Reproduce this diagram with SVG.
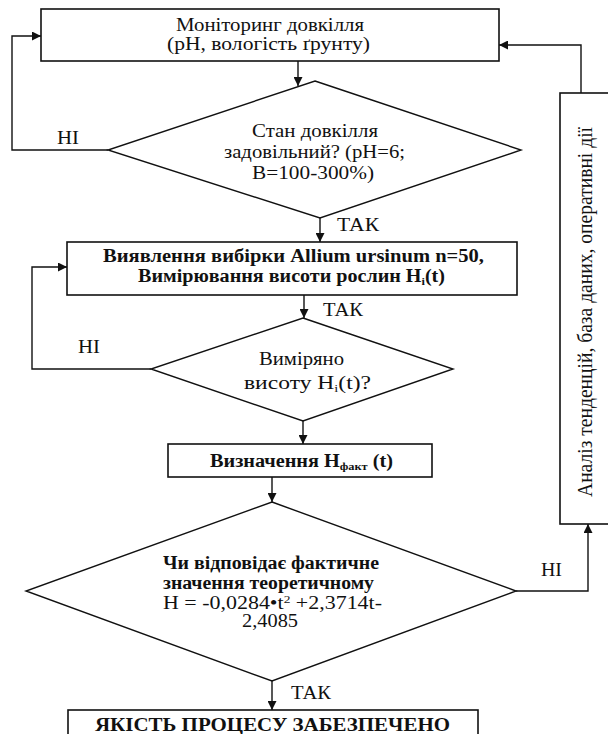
<svg xmlns="http://www.w3.org/2000/svg" width="608" height="734" viewBox="0 0 608 734" font-family="'Liberation Serif', 'DejaVu Serif', serif">
<defs>
<marker id="ah" viewBox="0 0 10 10" refX="10" refY="5" markerWidth="10" markerHeight="9" markerUnits="userSpaceOnUse" orient="auto">
<path d="M0,0 L10,5 L0,10 z" fill="#111"/>
</marker>
<style>
.shape{fill:#fff;stroke:#111;stroke-width:1.6}
.dia{fill:#fff;stroke:#111;stroke-width:1.4}
.conn{fill:none;stroke:#111;stroke-width:1.4}
.t{font-family:'Liberation Serif', 'DejaVu Serif', serif;font-size:18px;fill:#111}
.c{text-anchor:middle}
.b{font-weight:bold}
.sub{font-size:11px}
</style>
</defs>
<rect width="608" height="734" fill="#fff"/>

<g id="connectors">
<path class="conn" d="M298,61 V86" marker-end="url(#ah)"/>
<path class="conn" d="M320,218 V242" marker-end="url(#ah)"/>
<path class="conn" d="M304,295 V318" marker-end="url(#ah)"/>
<path class="conn" d="M303,421 V444" marker-end="url(#ah)"/>
<path class="conn" d="M272,477 V502" marker-end="url(#ah)"/>
<path class="conn" d="M272,681 V710" marker-end="url(#ah)"/>
<path class="conn" d="M108,150 H12 V36 H41" marker-end="url(#ah)"/>
<path class="conn" d="M151,369 H32 V267 H67" marker-end="url(#ah)"/>
<path class="conn" d="M516,591 H588 V524" marker-end="url(#ah)"/>
<path class="conn" d="M581,93 V45 H499" marker-end="url(#ah)"/>
<text class="t" x="57" y="144" textLength="22" lengthAdjust="spacingAndGlyphs">НІ</text>
<text class="t" x="337" y="231" textLength="42" lengthAdjust="spacingAndGlyphs">ТАК</text>
<text class="t" x="323" y="316" textLength="40" lengthAdjust="spacingAndGlyphs">ТАК</text>
<text class="t" x="78" y="353" textLength="22" lengthAdjust="spacingAndGlyphs">НІ</text>
<text class="t" x="541" y="576" textLength="21" lengthAdjust="spacingAndGlyphs">НІ</text>
<text class="t" x="291" y="699" textLength="40" lengthAdjust="spacingAndGlyphs">ТАК</text>
</g>

<g id="monitoring">
<rect class="shape" x="41" y="9" width="458" height="52"/>
<text class="t c" x="270" y="31" textLength="188" lengthAdjust="spacingAndGlyphs">Моніторинг довкілля</text>
<text class="t c" x="268.5" y="50" textLength="203" lengthAdjust="spacingAndGlyphs">(pH, вологість ґрунту)</text>
</g>

<g id="env-check">
<polygon class="dia" points="315,81 521,150 320,218 108,150"/>
<text class="t c" x="315" y="137" textLength="126" lengthAdjust="spacingAndGlyphs">Стан довкілля</text>
<text class="t c" x="314.5" y="158" textLength="181" lengthAdjust="spacingAndGlyphs">задовільний? (pH=6;</text>
<text class="t c" x="313" y="179" textLength="122" lengthAdjust="spacingAndGlyphs">B=100-300%)</text>
</g>

<g id="sampling">
<rect class="shape" x="67" y="242" width="450" height="53"/>
<text class="t c b" x="293.5" y="262" textLength="381" lengthAdjust="spacingAndGlyphs">Виявлення вибірки Allium ursinum n=50,</text>
<text class="t c b" x="291.5" y="282" textLength="307" lengthAdjust="spacingAndGlyphs">Вимірювання висоти рослин H<tspan class="sub" dy="3">i</tspan><tspan dy="-3">(t)</tspan></text>
</g>

<g id="measured-check">
<polygon class="dia" points="303,318 453,369 303,421 151,369"/>
<text class="t c" x="301.5" y="365" textLength="85" lengthAdjust="spacingAndGlyphs">Виміряно</text>
<text class="t c" x="307.5" y="389" textLength="127" lengthAdjust="spacingAndGlyphs">висоту H<tspan class="sub" dy="3">i</tspan><tspan dy="-3">(t)?</tspan></text>
</g>

<g id="actual-height">
<rect class="shape" x="168" y="444" width="264" height="33"/>
<text class="t c b" x="301.5" y="467" textLength="183" lengthAdjust="spacingAndGlyphs">Визначення H<tspan class="sub" dy="3">факт</tspan><tspan dy="-3"> (t)</tspan></text>
</g>

<g id="theory-check">
<polygon class="dia" points="272,502 516,591 272,681 26,591"/>
<text class="t c b" x="271" y="569" textLength="216" lengthAdjust="spacingAndGlyphs">Чи відповідає фактичне</text>
<text class="t c b" x="268.5" y="589" textLength="211" lengthAdjust="spacingAndGlyphs">значення теоретичному</text>
<text class="t c" x="272.5" y="609" textLength="219" lengthAdjust="spacingAndGlyphs">H = -0,0284•t<tspan class="sub" dy="-6">2</tspan><tspan dy="6"> +2,3714t-</tspan></text>
<text class="t c" x="270" y="627" textLength="56" lengthAdjust="spacingAndGlyphs">2,4085</text>
</g>

<g id="analysis">
<rect class="shape" x="560" y="93" width="52" height="431"/>
<text class="t c" transform="translate(592,312) rotate(-90) scale(1,1.15)" font-size="19" textLength="370" lengthAdjust="spacingAndGlyphs">Аналіз тенденцій, база даних, оперативні дії</text>
</g>

<g id="result">
<rect class="shape" x="68" y="710" width="410" height="40"/>
<text class="t c b" x="272.5" y="731" textLength="355" lengthAdjust="spacingAndGlyphs">ЯКІСТЬ ПРОЦЕСУ ЗАБЕЗПЕЧЕНО</text>
</g>
</svg>
